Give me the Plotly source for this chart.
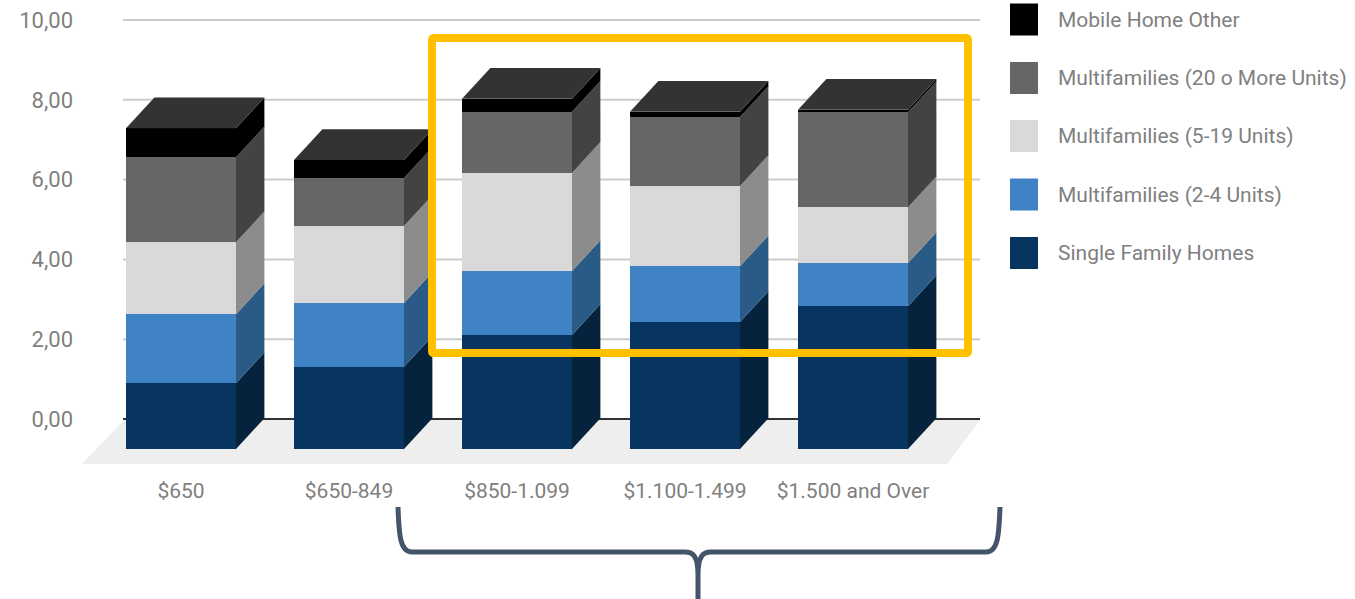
import plotly.graph_objects as go

categories = ["$650", "$650-849", "$850-1.099", "$1.100-1.499", "$1.500 and Over"]
single_family = [1.65, 2.06, 2.86, 3.18, 3.58]
multi_2_4 = [1.73, 1.60, 1.60, 1.40, 1.08]
multi_5_19 = [1.80, 1.93, 2.46, 2.01, 1.40]
multi_20 = [2.13, 1.20, 1.53, 1.73, 2.38]
mobile_other = [0.73, 0.45, 0.33, 0.13, 0.06]

series = [
    ("Single Family Homes", single_family, "#08355f", "#05233d"),
    ("Multifamilies (2-4 Units)", multi_2_4, "#3f83c6", "#2a5a86"),
    ("Multifamilies (5-19 Units)", multi_5_19, "#d9d9d9", "#8c8c8c"),
    ("Multifamilies (20 o More Units)", multi_20, "#666666", "#434343"),
    ("Mobile Home Other", mobile_other, "#000000", "#000000"),
]
legend_order = ["Mobile Home Other", "Multifamilies (20 o More Units)", "Multifamilies (5-19 Units)",
                "Multifamilies (2-4 Units)", "Single Family Homes"]
y_ticks = [0, 2, 4, 6, 8, 10]

# Canvas geometry
W, H = 1355, 599
L, R, T, B = 82, 980, 5, 466
PX_X, PX_Y = 168.0, 39.9
X0_PX, Y0_PX = 181.0, 419.0
BAR_W = 110 / PX_X
DX = 28.4 / PX_X
BASE = 30 / PX_Y
DY = 30.8 / PX_Y
GREY = "#808080"

def xval(px):
    return (px - X0_PX) / PX_X

def yval(py):
    return (Y0_PX - py) / PX_Y

def xp(px):
    return (px - L) / (R - L)

def yp(py):
    return (B - py) / (B - T)

fig = go.Figure()
xs = list(range(len(categories)))
cum = [-BASE] * len(categories)

for name, vals, front, side in series:
    fig.add_trace(go.Bar(x=xs, y=vals, base=list(cum), width=BAR_W, name=name,
                         marker=dict(color=front, line=dict(width=0)),
                         showlegend=False, hoverinfo="name+y"))
    for i, v in enumerate(vals):
        r = i + BAR_W / 2
        b, t = cum[i], cum[i] + v
        fig.add_trace(go.Scatter(
            x=[r, r, r + DX, r + DX, r], y=[b, t, t + DY, b + DY, b],
            mode="lines", fill="toself", fillcolor=side, line=dict(width=0, color=side),
            showlegend=False, hoverinfo="skip"))
        cum[i] = t

for i, top in enumerate(cum):
    l, r = i - BAR_W / 2, i + BAR_W / 2
    fig.add_trace(go.Scatter(
        x=[l, r, r + DX, l + DX, l], y=[top, top, top + DY, top + DY, top],
        mode="lines", fill="toself", fillcolor="#333333", line=dict(width=0, color="#333333"),
        showlegend=False, hoverinfo="skip"))

shapes = [dict(type="path", layer="below", xref="x", yref="y", line=dict(width=0), fillcolor="#eeeeee",
               path=f"M{xval(82)},{yval(464)} L{xval(947)},{yval(464)} L{xval(980)},{yval(420)} L{xval(124)},{yval(420)} Z")]
for v in y_ticks:
    shapes.append(dict(type="line", layer="below", xref="x", yref="y",
                       x0=xval(123), x1=xval(980), y0=v, y1=v,
                       line=dict(color="#333333" if v == 0 else "#cccccc", width=2)))

def P(x, y):
    return f"{xp(x)},{yp(y)}"

# Highlight frame with slightly rounded corners
fl, fr, ft, fb, c = 432, 968, 38, 353, 2
frame = (f"M{P(fl+c,ft)} L{P(fr-c,ft)} Q{P(fr,ft)} {P(fr,ft+c)} L{P(fr,fb-c)} Q{P(fr,fb)} {P(fr-c,fb)} "
         f"L{P(fl+c,fb)} Q{P(fl,fb)} {P(fl,fb-c)} L{P(fl,ft+c)} Q{P(fl,ft)} {P(fl+c,ft)} Z")
shapes.append(dict(type="path", layer="above", xref="paper", yref="paper",
                   line=dict(color="#ffc000", width=8), path=frame))

# Brace
brace = (f"M{P(398,507)} C{P(399,535)} {P(400,552)} {P(412,552)} L{P(685,552)} "
         f"C{P(693,552)} {P(698,556)} {P(698,575)} L{P(698,599)} "
         f"M{P(1000,507)} C{P(999,535)} {P(998,552)} {P(986,552)} L{P(711,552)} "
         f"C{P(703,552)} {P(698,556)} {P(698,575)}")
shapes.append(dict(type="path", layer="above", xref="paper", yref="paper",
                   line=dict(color="#44546a", width=5), path=brace))

# Legend
annotations = []
colors = {s[0]: s[2] for s in series}
legend_y = [19.5, 78, 136, 194.5, 253]
for name, cy in zip(legend_order, legend_y):
    shapes.append(dict(type="rect", xref="paper", yref="paper", layer="above",
                       x0=xp(1010), x1=xp(1038), y0=yp(cy - 16), y1=yp(cy + 16),
                       fillcolor=colors[name], line=dict(width=0)))
    annotations.append(dict(xref="paper", yref="paper", x=xp(1056), y=yp(cy), text=name,
                            showarrow=False, xanchor="left", yanchor="middle",
                            font=dict(family="Roboto", size=21, color=GREY)))

fig.update_layout(
    width=W, height=H, autosize=False, paper_bgcolor="white", plot_bgcolor="white",
    margin=dict(l=L, r=W - R, t=T, b=H - B, pad=0), barmode="overlay", bargap=0,
    separators=",.", showlegend=False, shapes=shapes, annotations=annotations,
    font=dict(family="Roboto", color=GREY),
    xaxis=dict(range=[xval(L), xval(R)], tickmode="array", tickvals=xs, ticktext=categories,
               showgrid=False, zeroline=False, showline=False, ticks="",
               tickfont=dict(family="Roboto", size=21, color=GREY), ticklabelstandoff=10),
    yaxis=dict(range=[yval(B), yval(T)], tickmode="array", tickvals=y_ticks, tickformat=".2f",
               showgrid=False, zeroline=False, showline=False, ticks="",
               tickfont=dict(family="Roboto", size=22, color=GREY), ticklabelstandoff=8),
)
fig.write_html("out.html", config={"displayModeBar": False},
               post_script="document.body.style.margin='0';document.body.style.overflow='hidden';")
